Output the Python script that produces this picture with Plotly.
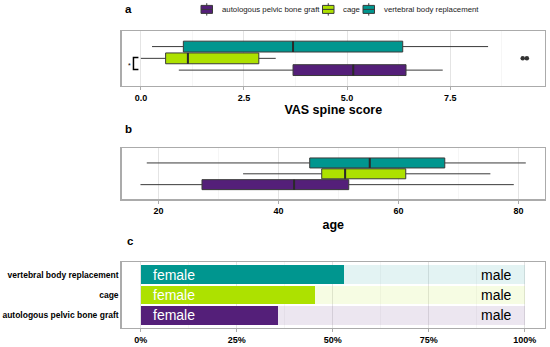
import plotly.graph_objects as go

# ---------------- data ----------------
groups = ["autologous pelvic bone graft", "cage", "vertebral body replacement"]
colors = ["#541F79", "#ADE100", "#00968F"]
male_colors = ["rgba(84,31,121,0.11)", "rgba(173,225,0,0.11)", "rgba(0,150,143,0.11)"]

# panel a: VAS spine score (box statistics per group)
vas_lowerfence = [0.92, 0.0, 0.27]
vas_q1 = [3.69, 0.60, 1.03]
vas_median = [5.15, 1.14, 3.69]
vas_q3 = [6.43, 2.86, 6.35]
vas_upperfence = [7.32, 3.27, 8.42]
vas_outliers_cage = [9.26, 9.36]
vas_ticks = [0, 2.5, 5, 7.5]
vas_ticktext = ["0.0", "2.5", "5.0", "7.5"]

# panel b: age
age_lowerfence = [17.0, 34.1, 18.05]
age_q1 = [27.25, 47.2, 45.2]
age_median = [42.6, 51.1, 55.2]
age_q3 = [51.7, 61.2, 67.7]
age_upperfence = [79.2, 75.3, 81.2]
age_ticks = [20, 40, 60, 80]
age_ticktext = ["20", "40", "60", "80"]

# panel c: sex distribution
female_share = [0.357, 0.455, 0.529]
pct_ticks = [0, 0.25, 0.5, 0.75, 1.0]
pct_ticktext = ["0%", "25%", "50%", "75%", "100%"]

# ---------------- layout helpers ----------------
W, H = 550, 347
FONT = "Liberation Sans, Arial, sans-serif"
BOXW = 0.92


def pxx(p):
    return p / W


def pxy(p):
    return 1 - p / H


xdom = [pxx(121.5), pxx(545)]
dom_a = [pxy(86), pxy(30.7)]
dom_b = [pxy(199.3), pxy(148.3)]
dom_c = [pxy(327.7), pxy(262.3)]

fig = go.Figure()
shapes = []
annotations = []

# ---------------- panel a & b boxes ----------------
for (xa, ya, lf, q1, md, q3, uf) in [
    ("x", "y", vas_lowerfence, vas_q1, vas_median, vas_q3, vas_upperfence),
    ("x2", "y2", age_lowerfence, age_q1, age_median, age_q3, age_upperfence),
]:
    for i, g in enumerate(groups):
        fig.add_trace(go.Box(
            y=[g], q1=[q1[i]], median=[md[i]], q3=[q3[i]],
            lowerfence=[lf[i]], upperfence=[uf[i]],
            orientation="h", width=BOXW, whiskerwidth=0,
            fillcolor=colors[i], line=dict(color="#3a3a3a", width=1),
            boxpoints=False, showlegend=False, hoverinfo="skip",
            xaxis=xa, yaxis=ya,
        ))
        shapes.append(dict(
            type="line", xref=xa, yref=ya,
            x0=md[i], x1=md[i], y0=i - BOXW / 2, y1=i + BOXW / 2,
            line=dict(color="#2a2a2a", width=2),
        ))

fig.add_trace(go.Scatter(
    x=vas_outliers_cage, y=["cage"] * len(vas_outliers_cage), mode="markers",
    marker=dict(color="#333333", size=4.5), showlegend=False, hoverinfo="skip",
    xaxis="x", yaxis="y",
))

# significance bracket between autologous and cage
shapes.append(dict(
    type="path", xref="x", yref="y",
    path="M -0.06,1.08 L -0.18,1.08 L -0.18,0.06 L -0.06,0.06",
    line=dict(color="black", width=1.5),
))
annotations.append(dict(
    x=-0.27, y=0.42, xref="x", yref="y", text="*", showarrow=False,
    font=dict(family=FONT, size=7, color="black"),
))

# ---------------- panel c bars ----------------
fig.add_trace(go.Bar(
    y=groups, x=female_share, orientation="h", width=0.9,
    marker=dict(color=colors, line=dict(width=0)),
    showlegend=False, hoverinfo="skip", xaxis="x3", yaxis="y3",
))
fig.add_trace(go.Bar(
    y=groups, x=[1 - f for f in female_share], orientation="h", width=0.9,
    marker=dict(color=male_colors, line=dict(width=0)),
    showlegend=False, hoverinfo="skip", xaxis="x3", yaxis="y3",
))
for i, g in enumerate(groups):
    annotations.append(dict(
        x=0.026, y=i, xref="x3", yref="y3", text="female", showarrow=False,
        xanchor="left", yanchor="middle",
        font=dict(family=FONT, size=14, color="white"),
    ))
    annotations.append(dict(
        x=0.971, y=i, xref="x3", yref="y3", text="male", showarrow=False,
        xanchor="right", yanchor="middle",
        font=dict(family=FONT, size=14, color="black"),
    ))

# ---------------- manual legend ----------------
leg_x = [201, 322.5, 363]
for i, g in enumerate(groups):
    x0 = leg_x[i]
    x1 = x0 + 11.5
    xc = (x0 + x1) / 2
    shapes.append(dict(type="line", xref="paper", yref="paper",
                       x0=pxx(xc), x1=pxx(xc), y0=pxy(3.2), y1=pxy(15.6),
                       line=dict(color="#3a3a3a", width=1)))
    shapes.append(dict(type="rect", xref="paper", yref="paper",
                       x0=pxx(x0), x1=pxx(x1), y0=pxy(5.4), y1=pxy(13.4),
                       fillcolor=colors[i], line=dict(color="#3a3a3a", width=1)))
    shapes.append(dict(type="line", xref="paper", yref="paper",
                       x0=pxx(x0), x1=pxx(x1), y0=pxy(9.4), y1=pxy(9.4),
                       line=dict(color="#3a3a3a", width=1)))
    annotations.append(dict(
        x=pxx(x0 + 18.5), y=pxy(9.4), xref="paper", yref="paper", text=g,
        showarrow=False, xanchor="left", yanchor="middle",
        font=dict(family=FONT, size=7.8, color="#1a1a1a"),
    ))

# panel labels
for lab, lx, ly in [("a", 122.5, 9.3), ("b", 123, 129), ("c", 124.5, 241)]:
    annotations.append(dict(
        x=pxx(lx), y=pxy(ly), xref="paper", yref="paper", text=lab,
        showarrow=False, xanchor="left", yanchor="middle",
        font=dict(family=FONT, size=11.5, color="black", weight="bold"),
    ))

# ---------------- axes ----------------
GRID = "#E4E4E4"
MINOR = "#F0F0F0"
BORDER = "#ABABAB"
tickfont = dict(family=FONT, size=9, color="black", weight="bold")
titlefont = dict(family=FONT, size=12.5, color="black", weight="bold")


def xaxis(dom_anchor, rng, tv, tt, minor_dtick, minor_tick0, title=None, standoff=3):
    d = dict(
        domain=xdom, anchor=dom_anchor, range=rng, automargin=False,
        tickmode="array", tickvals=tv, ticktext=tt,
        ticks="outside", ticklen=3, tickcolor=BORDER, tickwidth=1,
        tickfont=tickfont, showgrid=True, gridcolor=GRID, gridwidth=1,
        minor=dict(tickmode="linear", tick0=minor_tick0, dtick=minor_dtick,
                   showgrid=True, gridcolor=MINOR, gridwidth=0.6, ticks=""),
        showline=True, mirror=True, linecolor=BORDER, linewidth=1.2,
        zeroline=False, fixedrange=True,
    )
    if title:
        d["title"] = dict(text=title, font=titlefont, standoff=standoff)
    return d


def yaxis(dom, rng, labels, anchor):
    d = dict(
        domain=dom, anchor=anchor, range=rng, type="category", automargin=False,
        categoryorder="array", categoryarray=groups,
        showgrid=False, zeroline=False, showline=True, mirror=True,
        linecolor=BORDER, linewidth=1.2, ticks="", fixedrange=True,
        showticklabels=labels,
    )
    if labels:
        d["tickfont"] = dict(family=FONT, size=8.5, color="black", weight="bold")
    return d


fig.update_layout(
    template="none",
    width=W, height=H,
    margin=dict(l=0, r=0, t=0, b=0, autoexpand=False),
    paper_bgcolor="white", plot_bgcolor="white",
    font=dict(family=FONT, color="black"),
    barmode="stack", boxmode="overlay",
    showlegend=False,
    xaxis=xaxis("y", [-0.47, 9.8], vas_ticks, vas_ticktext, 1.25, 0, "VAS spine score"),
    xaxis2=xaxis("y2", [13.84, 84.4], age_ticks, age_ticktext, 10, 0, "age", standoff=5),
    xaxis3=xaxis("y3", [-0.05, 1.053], pct_ticks, pct_ticktext, 0.125, 0),
    yaxis=yaxis(dom_a, [-1.35, 3.35], False, "x"),
    yaxis2=yaxis(dom_b, [-1.35, 3.35], False, "x2"),
    yaxis3=yaxis(dom_c, [-0.6, 2.6], True, "x3"),
    shapes=shapes, annotations=annotations,
)

fig.write_html(
    "out.html",
    config={"displayModeBar": False, "staticPlot": True},
    post_script="document.body.style.margin='0';document.body.style.padding='0';",
)
